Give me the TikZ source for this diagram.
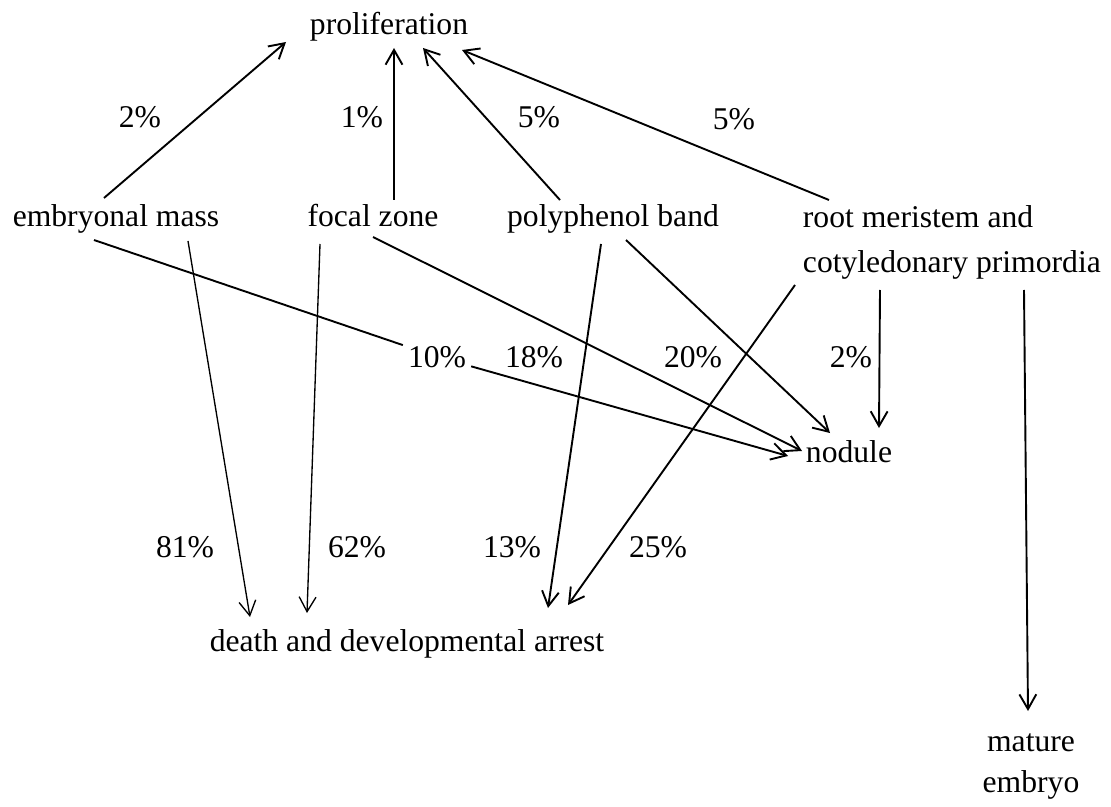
\documentclass[tikz,border=0pt]{standalone}
\usepackage{fontspec}
\setmainfont{Liberation Serif}
\usetikzlibrary{arrows.meta}

\begin{document}
\begin{tikzpicture}[x=0.025cm,y=-0.025cm,->,>={Straight Barb[length=10.5pt,width=12pt]},
                    line width=1.35pt,thinline/.style={line width=0.95pt},
                    every node/.style={inner sep=0pt,font=\fontsize{22.5}{27}\selectfont},
                    pct/.style={anchor=base}]
  \useasboundingbox (0,0) rectangle (1111,807);

  \node[anchor=base]       (prol)  at (389,35)  {proliferation};
  \node[anchor=base]       (emb)   at (116,227) {embryonal mass};
  \node[anchor=base]       (foc)   at (373,227) {focal zone};
  \node[anchor=base]       (poly)  at (613,227) {polyphenol band};
  \node[anchor=north west,align=left] (root) at (802,205) {root meristem and\\[5pt]cotyledonary primordia};
  \node[anchor=base]       (nod)   at (849,462) {nodule};
  \node[anchor=base]       (death) at (407,651) {death and developmental arrest};
  \node[anchor=north,align=center] (mat) at (1031,733) {mature\\[2pt]embryo};

  % percentages
  \node[pct] (pe) at (140,128) {2\%};
  \node[pct] (pf) at (362,128) {1\%};
  \node[pct] (pp) at (539,128) {5\%};
  \node[pct] (pr) at (734,130) {5\%};
  \node[pct,inner sep=3pt] (ne) at (437,367) {10\%};
  \node[pct] (nf) at (534,367) {18\%};
  \node[pct] (np) at (693,367) {20\%};
  \node[pct] (nr) at (851,367) {2\%};
  \node[pct] (de) at (185,557) {81\%};
  \node[pct] (df) at (357,557) {62\%};
  \node[pct] (dp) at (512,557) {13\%};
  \node[pct] (dr) at (658,557) {25\%};

  % to proliferation
  \path ([shift={(-12,-29)}]emb.base)  edge ([shift={(-103,7)}]prol.base)
        ([shift={(21,-27)}]foc.base)   edge ([shift={(5,13)}]prol.base)
        ([shift={(-53,-27)}]poly.base) edge ([shift={(34,13)}]prol.base)
        ([shift={(27,-5)}]root.north west) edge ([shift={(73,15)}]prol.base);

  % to nodule
  \path ([shift={(-22,13)}]emb.base)   edge[-] (ne)
        (ne)                           edge ([shift={(-61,-6)}]nod.base)
        ([shift={(0,10)}]foc.base)     edge ([shift={(-47,-11)}]nod.base)
        ([shift={(13,13)}]poly.base)   edge ([shift={(-19,-29)}]nod.base)
        ([shift={(78,85)}]root.north west) edge ([shift={(30,-34)}]nod.base);

  % to death and developmental arrest
  \path ([shift={(72,14)}]emb.base)    edge[thinline] ([shift={(-157,-34)}]death.base)
        ([shift={(-53,17)}]foc.base)   edge[thinline] ([shift={(-100,-38)}]death.base)
        ([shift={(-12,17)}]poly.base)  edge ([shift={(141,-43)}]death.base)
        ([shift={(-7,80)}]root.north west) edge ([shift={(161,-46)}]death.base);

  % to mature embryo
  \path ([shift={(222,85)}]root.north west) edge ([shift={(-3,-22)}]mat.north);
\end{tikzpicture}
\end{document}
